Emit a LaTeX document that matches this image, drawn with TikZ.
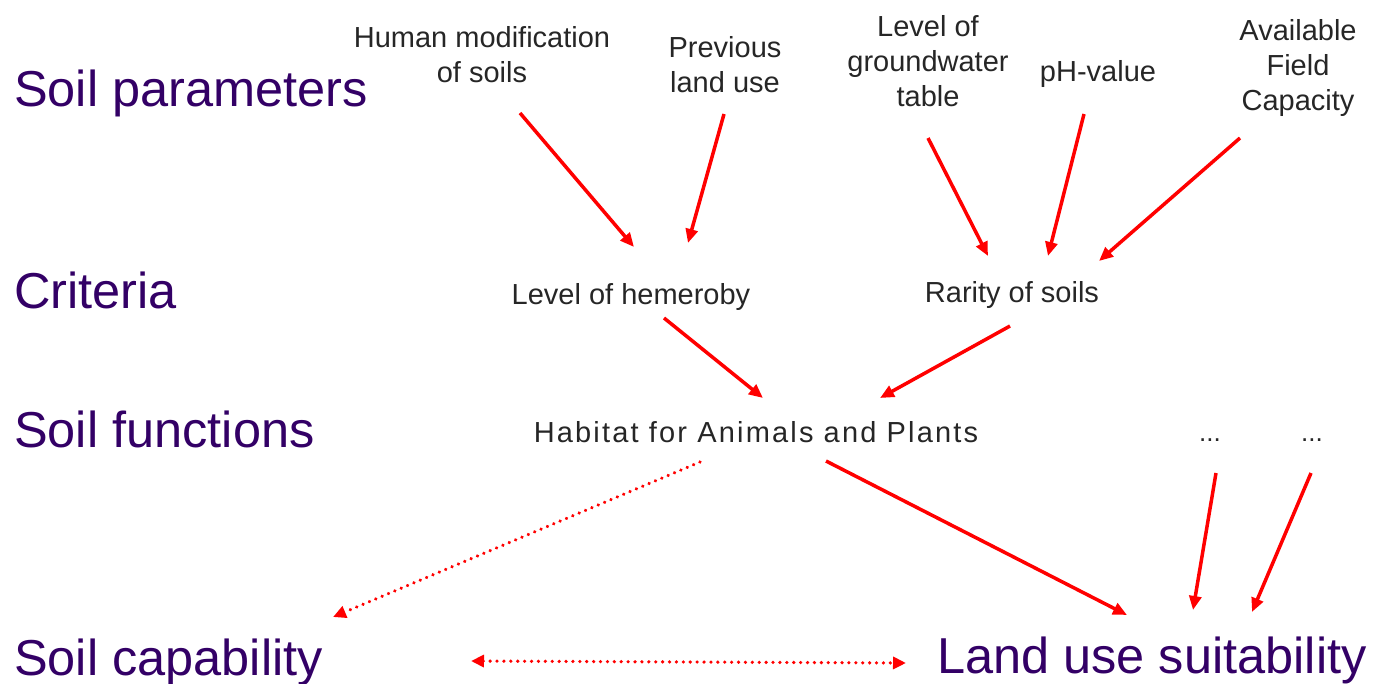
\documentclass[tikz,border=0pt]{standalone}
\usepackage{fontspec}
\setmainfont{Liberation Sans}
\usetikzlibrary{arrows.meta}
\definecolor{headc}{RGB}{51,0,102}
\definecolor{arrred}{RGB}{255,0,0}
\begin{document}
\begin{tikzpicture}[x=1pt,y=-1pt,
  head/.style={anchor=base west,inner sep=0pt,text=headc,font=\fontsize{50.5}{60}\selectfont},
  small/.style={inner sep=0pt,align=center,text=black!85,font=\fontsize{29}{35}\selectfont},
  arr/.style={draw=arrred,line width=3.5pt,-{Triangle[length=14pt,width=12pt]}},
  dotarr/.style={draw=arrred,line width=3.5pt,line cap=round,dash pattern=on 0.1pt off 6.8pt,-{Triangle[length=13pt,width=12pt]}},
  dotarr2/.style={draw=arrred,line width=3.5pt,line cap=round,dash pattern=on 0.1pt off 6.8pt,{Triangle[length=13pt,width=12pt]}-{Triangle[length=13pt,width=12pt]}}
]
\useasboundingbox (0,0) rectangle (1376,683);
% headings
\node[head] (h1) at (14,106) {Soil parameters};
\node[head] (h2) at (14,308) {Criteria};
\node[head] (h3) at (14,447) {Soil functions};
\node[head] (h4) at (14,675) {Soil capability};
\node[head] (h5) at (937,673) {Land use suitability};
% parameters (anchor = baseline of last line)
\node[small,anchor=base] (hum) at (482,82) {Human modification\\of soils};
\node[small,anchor=base] (prev) at (725,92) {Previous\\land use};
\node[small,anchor=base] (gw) at (928,106) {Level of\\groundwater\\table};
\node[small,anchor=base] (ph) at (1098,81) {pH-value};
\node[small,anchor=base] (afc) at (1298,110) {Available\\Field\\Capacity};
% criteria
\node[small,anchor=base] (hem) at (631,304) {Level of hemeroby};
\node[small,anchor=base] (rar) at (1012,302) {Rarity of soils};
% function
\node[small,anchor=base] (hab) at (756,442) {\addfontfeature{LetterSpace=7.5}Habitat for Animals and Plants};
\node[small,anchor=base,font=\fontsize{26}{30}\selectfont] (d1) at (1210,441) {...};
\node[small,anchor=base,font=\fontsize{26}{30}\selectfont] (d2) at (1312,441) {...};
% arrow end points
\coordinate (hum-o) at (520,113); \coordinate (hem-i1) at (634,247);
\coordinate (prev-o) at (724,114); \coordinate (hem-i2) at (688,243);
\coordinate (gw-o) at (928,138); \coordinate (rar-i1) at (988,256);
\coordinate (ph-o) at (1084,114); \coordinate (rar-i2) at (1048,256);
\coordinate (afc-o) at (1240,138); \coordinate (rar-i3) at (1099,261);
\coordinate (hem-o) at (664,318); \coordinate (hab-i1) at (763,398);
\coordinate (rar-o) at (1010,326); \coordinate (hab-i2) at (880,398);
\coordinate (hab-o1) at (826,461); \coordinate (lus-i1) at (1127,615);
\coordinate (d1-o) at (1216,473); \coordinate (lus-i2) at (1193,610);
\coordinate (d2-o) at (1311,473); \coordinate (lus-i3) at (1252,612);
\coordinate (hab-o2) at (700,462); \coordinate (cap-i) at (333,617);
\coordinate (cap-r) at (471,661); \coordinate (lus-l) at (906,663);
\draw[arr] (hum-o) -- (hem-i1);
\draw[arr] (prev-o) -- (hem-i2);
\draw[arr] (gw-o) -- (rar-i1);
\draw[arr] (ph-o) -- (rar-i2);
\draw[arr] (afc-o) -- (rar-i3);
\draw[arr] (hem-o) -- (hab-i1);
\draw[arr] (rar-o) -- (hab-i2);
\draw[arr] (hab-o1) -- (lus-i1);
\draw[arr] (d1-o) -- (lus-i2);
\draw[arr] (d2-o) -- (lus-i3);
\draw[dotarr] (hab-o2) -- (cap-i);
\draw[dotarr2] (cap-r) -- (lus-l);
\end{tikzpicture}
\end{document}
